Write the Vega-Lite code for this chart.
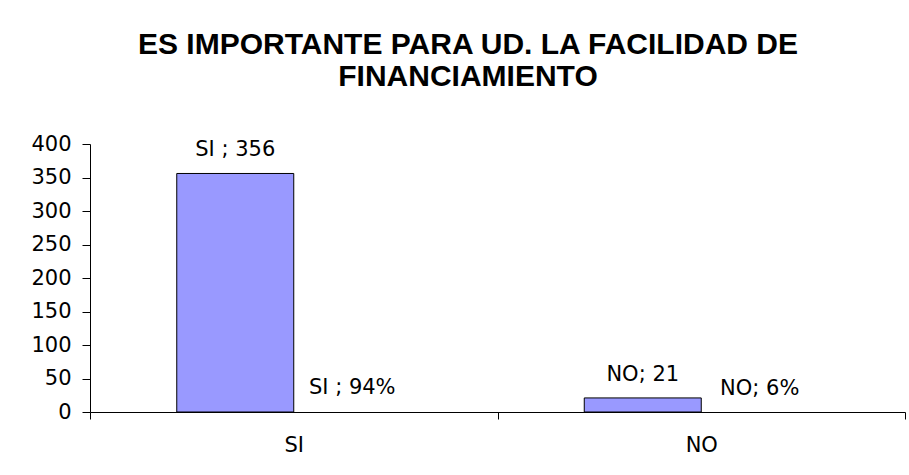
{
  "$schema": "https://vega.github.io/schema/vega-lite/v6.json",
  "width": 815,
  "height": 268,
  "autosize": {"type": "none"},
  "padding": {"left": 90, "top": 144, "right": 4, "bottom": 63},
  "background": "white",
  "config": {"view": {"stroke": null}, "font": "DejaVu Sans"},
  "title": {
    "text": ["ES IMPORTANTE PARA UD. LA FACILIDAD DE", "FINANCIAMIENTO"],
    "font": "Liberation Sans",
    "fontSize": 30,
    "fontWeight": "bold",
    "color": "black",
    "anchor": "middle",
    "frame": "group",
    "lineHeight": 32,
    "offset": 41,
    "dx": -29.5
  },
  "data": {
    "values": [
      {"cat": "SI", "series": "count", "value": 356, "label": "SI ; 356"},
      {"cat": "SI", "series": "pct", "value": 0.94, "label": "SI ; 94%"},
      {"cat": "NO", "series": "count", "value": 21, "label": "NO; 21"},
      {"cat": "NO", "series": "pct", "value": 0.06, "label": "NO; 6%"}
    ]
  },
  "encoding": {
    "x": {
      "field": "cat",
      "type": "nominal",
      "sort": ["SI", "NO"],
      "scale": {"paddingInner": 0, "paddingOuter": 0},
      "axis": {
        "title": null,
        "labelAngle": 0,
        "tickBand": "extent",
        "tickSize": 7,
        "tickColor": "black",
        "domainColor": "black",
        "labelFontSize": 21,
        "labelFont": "DejaVu Sans",
        "labelColor": "black",
        "labelPadding": 15
      }
    },
    "xOffset": {
      "field": "series",
      "type": "nominal",
      "scale": {"domain": ["count", "pct"], "paddingInner": 0, "paddingOuter": 0.7415}
    },
    "y": {
      "field": "value",
      "type": "quantitative",
      "scale": {"domain": [0, 400], "nice": false},
      "axis": {
        "title": null,
        "values": [0, 50, 100, 150, 200, 250, 300, 350, 400],
        "grid": false,
        "tickSize": 8,
        "tickColor": "black",
        "domainColor": "black",
        "labelFontSize": 21,
        "labelFont": "DejaVu Sans",
        "labelColor": "black",
        "labelPadding": 11
      }
    }
  },
  "layer": [
    {
      "transform": [{"filter": "datum.series === 'count'"}],
      "mark": {"type": "bar", "fill": "#9999FF", "stroke": "black", "strokeWidth": 1}
    },
    {
      "mark": {"type": "text", "baseline": "alphabetic", "dy": -17, "fontSize": 21, "color": "black", "font": "DejaVu Sans"},
      "encoding": {"text": {"field": "label"}}
    }
  ]
}
